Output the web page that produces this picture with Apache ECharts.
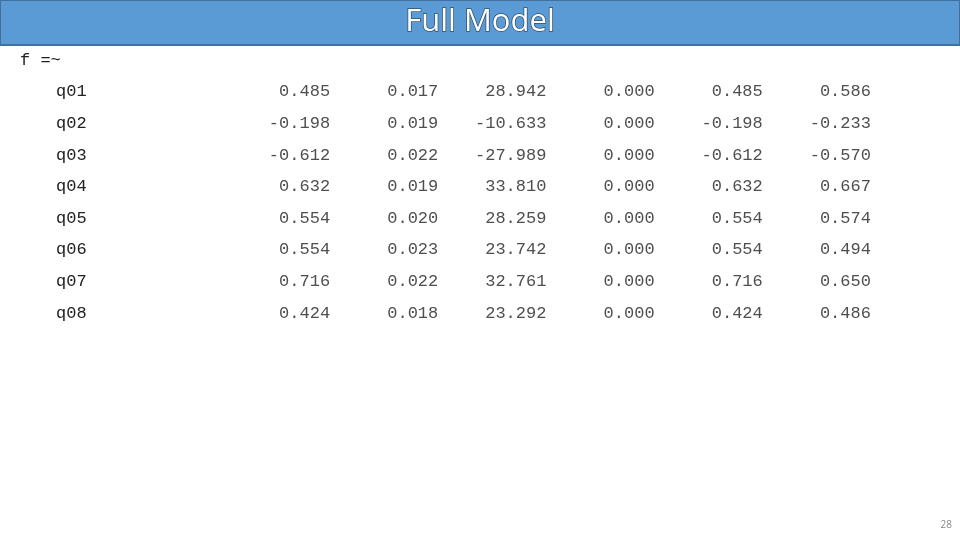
<!DOCTYPE html>
<html>
<head>
<meta charset="utf-8">
<script src="https://cdn.jsdelivr.net/npm/echarts@6/dist/echarts.min.js"></script>
<style>html,body{margin:0;padding:0;background:#fff}#chart{width:960px;height:540px}</style>
</head>
<body>
<div id="chart"></div>
<script>
const items = ['q01', 'q02', 'q03', 'q04', 'q05', 'q06', 'q07', 'q08'];
const est = [0.485, -0.198, -0.612, 0.632, 0.554, 0.554, 0.716, 0.424];
const se = [0.017, 0.019, 0.022, 0.019, 0.020, 0.023, 0.022, 0.018];
const zval = [28.942, -10.633, -27.989, 33.810, 28.259, 23.742, 32.761, 23.292];
const pval = [0.000, 0.000, 0.000, 0.000, 0.000, 0.000, 0.000, 0.000];
const stdLv = [0.485, -0.198, -0.612, 0.632, 0.554, 0.554, 0.716, 0.424];
const stdAll = [0.586, -0.233, -0.570, 0.667, 0.574, 0.494, 0.650, 0.486];
const cols = [est, se, zval, pval, stdLv, stdAll];

const mono = 'Liberation Mono';
const chart = echarts.init(document.getElementById('chart'));

// one scatter series per column, labels only
const series = cols.map((vals, c) => ({
    type: 'scatter',
    symbolSize: 0,
    silent: true,
    data: vals.map((v, r) => [c, r, v]),
    label: {
        show: true,
        position: 'inside',
        align: 'right',
        offset: [54, 0],
        fontFamily: mono,
        fontSize: 17,
        color: '#222',
        formatter: p => p.value[2].toFixed(3)
    }
}));

chart.setOption({
    animation: false,
    title: {
        text: 'Full Model',
        left: 'center',
        top: 2,
        textStyle: {
            fontFamily: 'Open Sans',
            fontSize: 31,
            fontWeight: 'normal',
            color: '#fff',
            textBorderColor: '#2d4f6e',
            textBorderWidth: 1.5
        }
    },
    graphic: [
        { type: 'rect', z: -1, shape: { x: 0, y: 0, width: 960, height: 45 },
          style: { fill: '#5b9bd5', stroke: '#41719c', lineWidth: 2 } },
        { type: 'text', left: 20, top: 52,
          style: { text: 'f =~', font: '17px "Liberation Mono"', fill: '#222' } },
        { type: 'text', right: 8, bottom: 10,
          style: { text: '28', font: '10px "Open Sans"', fill: '#888' } }
    ],
    grid: { left: 222, width: 649, top: 76, height: 253 },
    xAxis: {
        type: 'category',
        data: ['Estimate', 'Std.Err', 'z-value', 'P(>|z|)', 'Std.lv', 'Std.all'],
        axisLine: { show: false }, axisTick: { show: false }, axisLabel: { show: false },
        splitLine: { show: false }
    },
    yAxis: {
        type: 'category',
        inverse: true,
        data: items,
        axisLine: { show: false }, axisTick: { show: false }, splitLine: { show: false },
        axisLabel: { align: 'left', margin: 166, fontFamily: mono, fontSize: 17, color: '#222' }
    },
    series: series
});
</script>
</body>
</html>
